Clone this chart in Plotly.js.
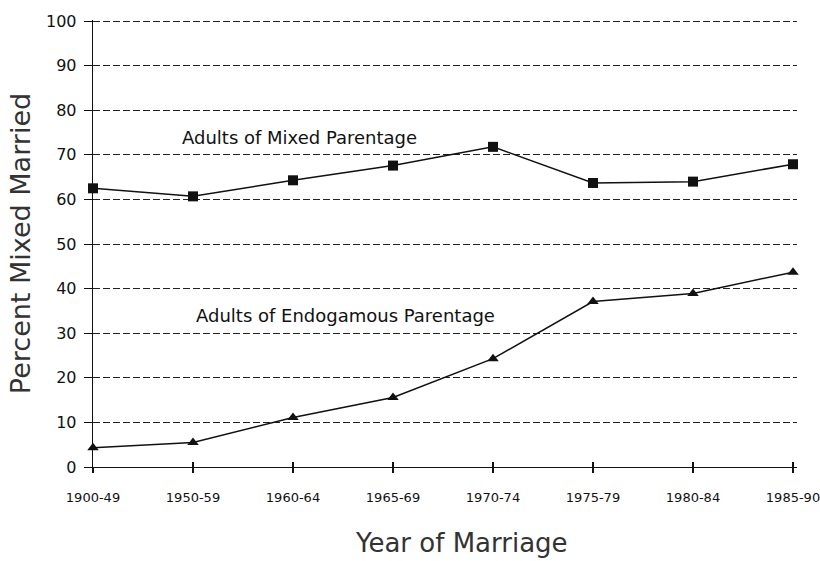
<!DOCTYPE html>
<html>
<head>
<meta charset="utf-8">
<script src="https://cdn.plot.ly/plotly-3.0.1.min.js"></script>
<style>html,body{margin:0;padding:0;background:#fff;}#chart{width:820px;height:561px;}</style>
</head>
<body>
<div id="chart"></div>
<script>
const periods = ["1900-49","1950-59","1960-64","1965-69","1970-74","1975-79","1980-84","1985-90"];
const mixedParentage = [62.5, 60.7, 64.3, 67.6, 71.8, 63.7, 64.0, 67.9];
const endogamousParentage = [4.3, 5.5, 11.1, 15.6, 24.3, 37.1, 38.9, 43.7];
const yTicks = [0,10,20,30,40,50,60,70,80,90,100];
const seriesLabels = ["Adults of Mixed Parentage", "Adults of Endogamous Parentage"];
const xTitle = "Year of Marriage";
const yTitle = "Percent Mixed Married";

const idx = periods.map((p,i)=>i);
const font = "DejaVu Sans, Verdana, sans-serif";

const traces = [
  {x: idx, y: mixedParentage, type: 'scatter', mode: 'lines+markers',
   line: {color: '#111', width: 1.5}, marker: {symbol: 'square', size: 10, color: '#111'},
   cliponaxis: false, showlegend: false},
  {x: idx, y: endogamousParentage, type: 'scatter', mode: 'lines+markers',
   line: {color: '#111', width: 1.5}, marker: {symbol: 'triangle-up', size: 10, color: '#111'},
   cliponaxis: false, showlegend: false},
  {x: idx, y: idx.map(()=>0), xaxis: 'x2', type: 'scatter', mode: 'none', hoverinfo: 'skip', showlegend: false}
];

const layout = {
  width: 820, height: 561,
  margin: {l: 93, r: 23, t: 20, b: 94},
  paper_bgcolor: '#fff', plot_bgcolor: '#fff',
  font: {family: font, color: '#111'},
  xaxis: {
    range: [0, 7.04], tickmode: 'array', tickvals: idx, ticktext: periods,
    showgrid: false, zeroline: false, showline: true, linecolor: '#111', linewidth: 1.3,
    ticks: 'outside', ticklen: 5, tickcolor: '#111', tickwidth: 1.2,
    tickfont: {size: 13, family: font, color: '#111'}, ticklabelstandoff: 13,
    ticklabeloverflow: 'allow',
    automargin: false
  },
  xaxis2: {
    overlaying: 'x', matches: 'x', anchor: 'y', side: 'bottom',
    tickmode: 'array', tickvals: idx, showticklabels: false,
    ticks: 'inside', ticklen: 5, tickcolor: '#111', tickwidth: 1.2,
    showgrid: false, zeroline: false, showline: false
  },
  yaxis: {
    range: [0, 100.25], tickmode: 'array', tickvals: yTicks,
    showgrid: true, gridcolor: '#222', gridwidth: 1, griddash: '7px,3px',
    zeroline: false, showline: true, linecolor: '#111', linewidth: 1.3,
    ticks: 'outside', ticklen: 8, tickcolor: '#111', tickwidth: 1,
    tickfont: {size: 16, family: font, color: '#111'}, ticklabelstandoff: 4,
    title: {text: yTitle, font: {size: 27, family: font, color: '#333'}, standoff: 7},
    automargin: false
  },
  annotations: [
    {x: 2.06, y: 73.9, xref: 'x', yref: 'y', text: seriesLabels[0], showarrow: false,
     font: {size: 18, family: font, color: '#111'}},
    {x: 2.52, y: 33.9, xref: 'x', yref: 'y', text: seriesLabels[1], showarrow: false,
     font: {size: 18, family: font, color: '#111'}},
    {x: 0.523, y: -0.206, xref: 'paper', yref: 'paper', text: xTitle, showarrow: false,
     xanchor: 'center', yanchor: 'bottom', borderpad: 0,
     font: {size: 26, family: font, color: '#333'}}
  ]
};

Plotly.newPlot('chart', traces, layout, {displayModeBar: false, staticPlot: true});
</script>
</body>
</html>
